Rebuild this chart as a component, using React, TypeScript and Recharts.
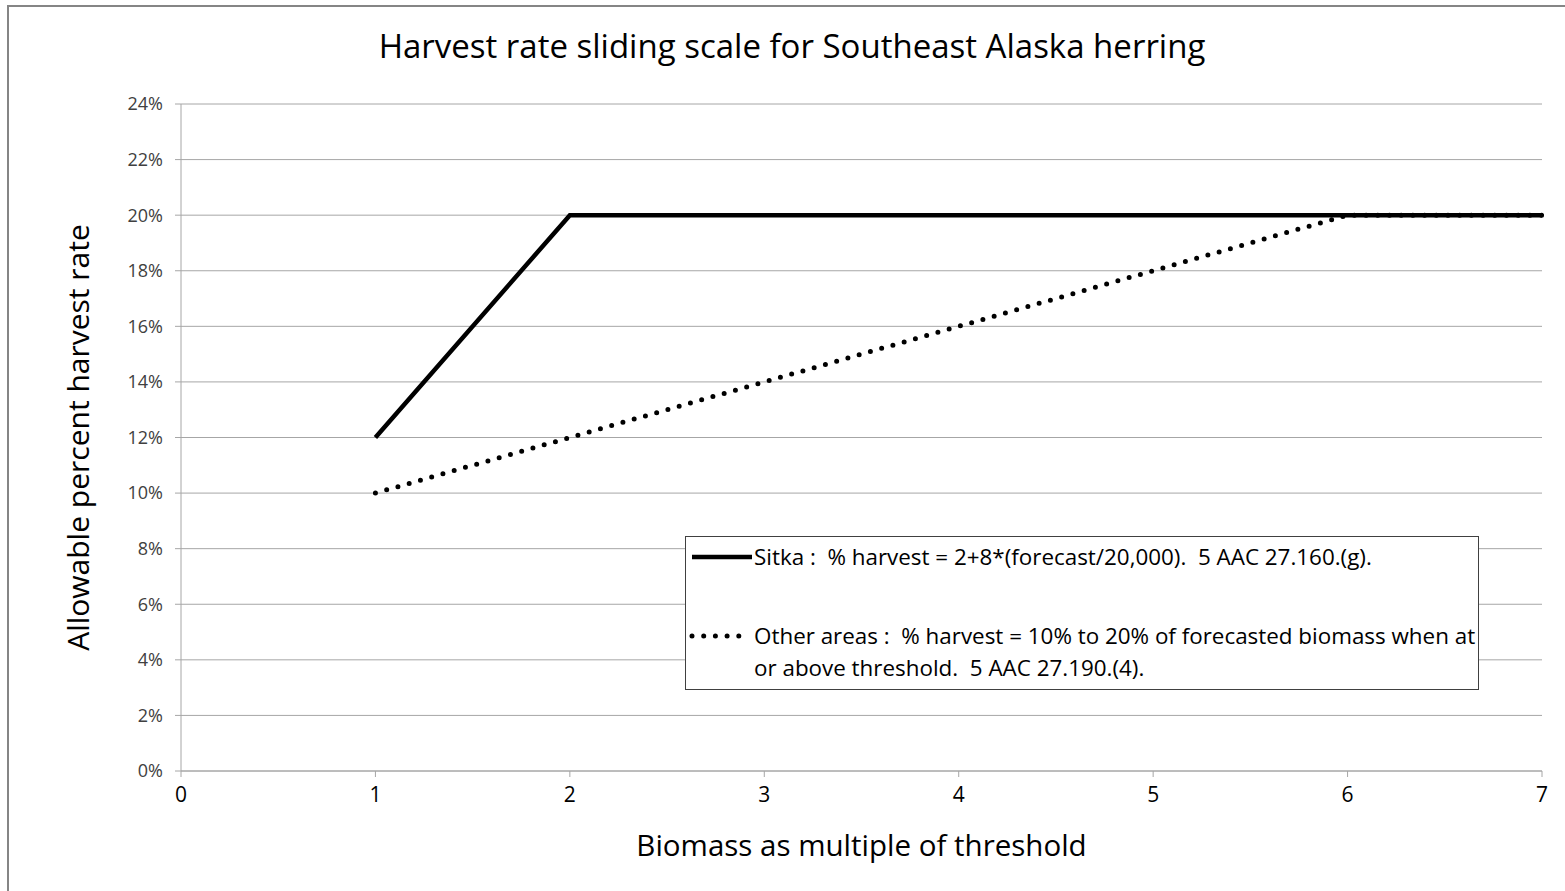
import { LineChart, Line, XAxis, YAxis, CartesianGrid, Legend, Label } from "recharts";

const TITLE = "Harvest rate sliding scale for Southeast Alaska herring";
const X_TITLE = "Biomass as multiple of threshold";
const Y_TITLE = "Allowable percent harvest rate";

// biomass as multiple of threshold
const BIOMASS = [1, 2, 6, 7];
const SITKA = [0.12, 0.2, 0.2, 0.2];
const OTHER = [0.1, 0.12, 0.2, 0.2];

const X_TICKS = [0, 1, 2, 3, 4, 5, 6, 7];
const Y_TICKS = [0, 0.02, 0.04, 0.06, 0.08, 0.1, 0.12, 0.14, 0.16, 0.18, 0.2, 0.22, 0.24];

const SITKA_LABEL = ["Sitka :  % harvest = 2+8*(forecast/20,000).  5 AAC 27.160.(g)."];
const OTHER_LABEL = [
  "Other areas :  % harvest = 10% to 20% of forecasted biomass when at",
  "or above threshold.  5 AAC 27.190.(4).",
];

const FONT = "'Open Sans', 'Noto Sans', sans-serif";
const GRID = "#a6a6a6";

const data = BIOMASS.map((x, i) => ({ x, sitka: SITKA[i], other: OTHER[i] }));

function LegendBox() {
  const rows = [
    { lines: SITKA_LABEL, dash: undefined as string | undefined, w: 4.5 },
    { lines: OTHER_LABEL, dash: "0 11.7", w: 5 },
  ];
  return (
    <div
      style={{
        width: 794,
        height: 154,
        border: "1px solid #404040",
        background: "#fff",
        fontFamily: FONT,
        fontSize: 22.4,
        color: "#000",
        boxSizing: "border-box",
        position: "relative",
      }}
    >
      {rows.map((r, i) => (
        <div key={i} style={{ position: "absolute", left: 0, top: i === 0 ? 4 : 83 }}>
          <svg width={68} height={32} style={{ position: "absolute", left: 0, top: 0 }}>
            <line
              x1={6}
              y1={16}
              x2={i === 0 ? 66 : 64}
              y2={16}
              stroke="#000"
              strokeWidth={r.w}
              strokeDasharray={r.dash}
              strokeLinecap={r.dash ? "round" : "butt"}
            />
          </svg>
          <div style={{ position: "absolute", left: 68, top: 0, whiteSpace: "pre", lineHeight: "32px" }}>
            {r.lines.map((l, j) => (
              <div key={j}>{l}</div>
            ))}
          </div>
        </div>
      ))}
    </div>
  );
}

export default function App() {
  return (
    <div style={{ position: "absolute", left: 0, top: 0, width: 1565, height: 891, background: "#fff", overflow: "hidden" }}>
      <div
        style={{
          position: "absolute",
          left: 7,
          top: 5,
          width: 1600,
          height: 950,
          borderLeft: "2px solid #858585",
          borderTop: "2px solid #858585",
        }}
      />
      <div
        style={{
          position: "absolute",
          left: 19,
          right: 0,
          top: 23,
          textAlign: "center",
          fontFamily: FONT,
          fontSize: 33,
          color: "#000",
        }}
      >
        {TITLE}
      </div>
      <div style={{ position: "absolute", left: 0, top: 0 }}>
        <LineChart width={1565} height={891} data={data} margin={{ top: 104, right: 23, bottom: 0, left: 0 }}>
          <CartesianGrid vertical={false} stroke={GRID} />
          <XAxis
            type="number"
            dataKey="x"
            domain={[0, 7]}
            ticks={X_TICKS}
            height={120}
            tickSize={6}
            tickMargin={10}
            stroke={GRID}
            tick={{ fill: "#000", fontSize: 21, fontFamily: FONT }}
          >
            <Label
              value={X_TITLE}
              position="insideBottom"
              offset={35}
              style={{ fontSize: 29.5, fontFamily: FONT, fill: "#000" }}
            />
          </XAxis>
          <YAxis
            type="number"
            domain={[0, 0.24]}
            ticks={Y_TICKS}
            width={181}
            tickSize={6}
            tickMargin={12}
            stroke={GRID}
            tickFormatter={(v: number) => `${Math.round(v * 100)}%`}
            tick={{ fill: "#404040", fontSize: 18, fontFamily: FONT }}
          >
            <Label
              value={Y_TITLE}
              angle={-90}
              position="insideLeft"
              offset={78}
              style={{ fontSize: 30, fontFamily: FONT, fill: "#000", textAnchor: "middle" }}
            />
          </YAxis>
          <Legend
            layout="horizontal"
            verticalAlign="middle"
            align="center"
            wrapperStyle={{ position: "absolute", left: 685, top: 536, width: 794, height: 154 }}
            content={() => <LegendBox />}
          />
          <Line
            type="linear"
            dataKey="other"
            name="Other areas"
            stroke="#000"
            strokeWidth={5}
            strokeDasharray="0 11.7"
            strokeLinecap="round"
            dot={false}
            activeDot={false}
            isAnimationActive={false}
          />
          <Line
            type="linear"
            dataKey="sitka"
            name="Sitka"
            stroke="#000"
            strokeWidth={4.5}
            dot={false}
            activeDot={false}
            isAnimationActive={false}
          />
        </LineChart>
      </div>
    </div>
  );
}
